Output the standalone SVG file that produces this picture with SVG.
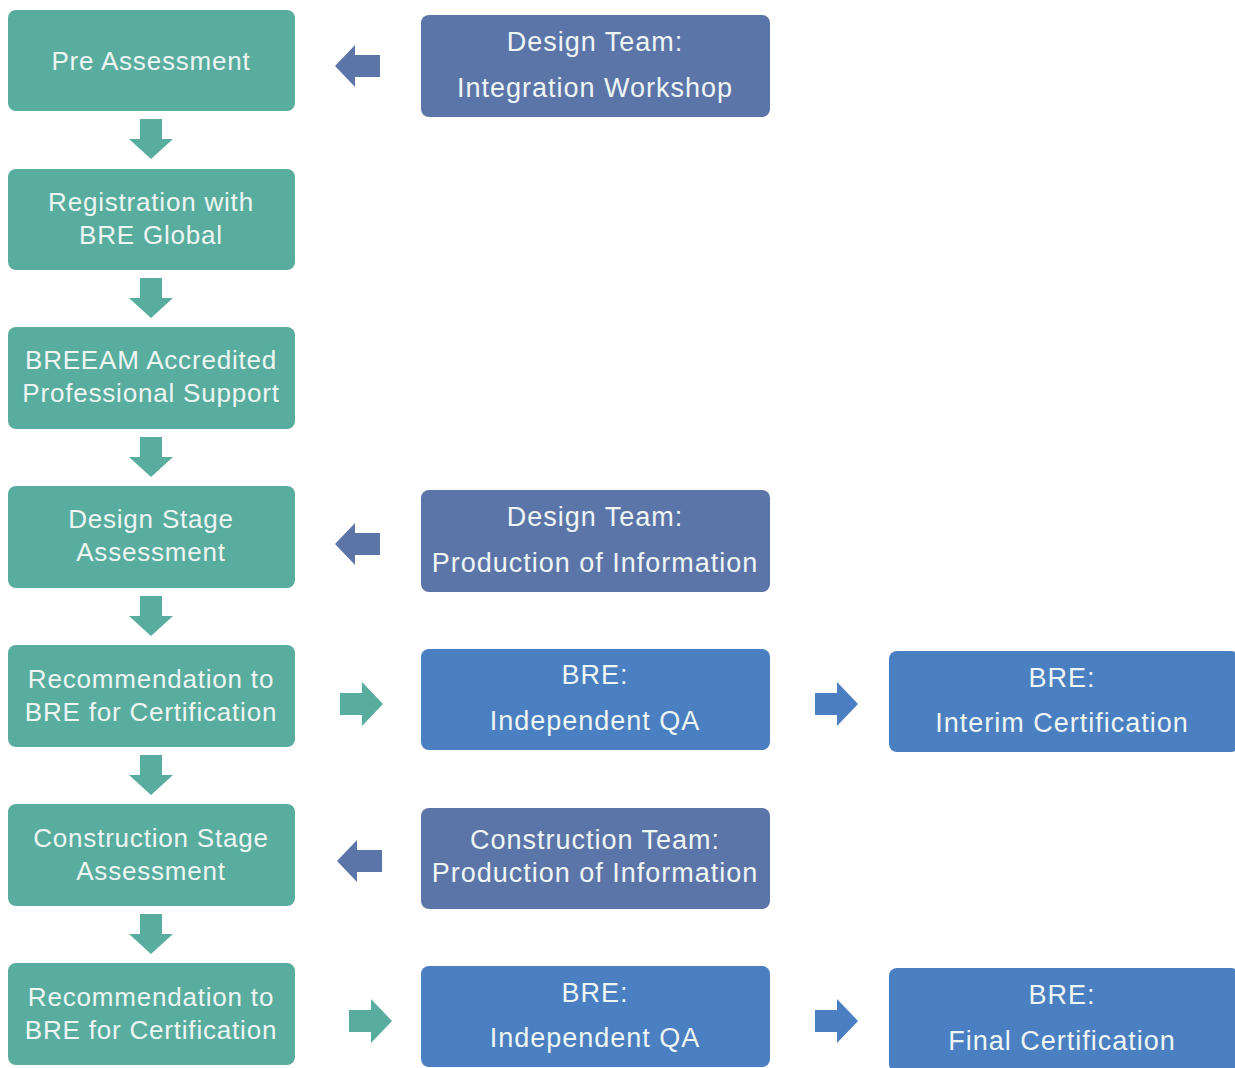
<svg xmlns="http://www.w3.org/2000/svg" width="1235" height="1068" viewBox="0 0 1235 1068">
<style>
text{font-family:"Liberation Sans",Arial,sans-serif;font-size:26px;fill:#eef5f3;text-anchor:middle;letter-spacing:0.8px}
text.r{font-size:27px;letter-spacing:1px}
.teal{fill:#58ad9e}
.purple{fill:#5c75a9}
.blue{fill:#4a7fc1}
</style>
<defs>
<path id="down" d="M-11,0 H11 V20 H22 L0,40 L-22,20 H-11 Z"/>
<path id="left" d="M0,0 L20,-21 V-11 H45 V11 H20 V21 Z"/>
<path id="right" d="M0,-11 H22 V-22 L43,0 L22,22 V11 H0 Z"/>
</defs>
<rect width="1235" height="1068" fill="#ffffff"/>
<g id="connectors">
<use href="#down" x="151" y="119" class="teal"/>
<use href="#down" x="151" y="278" class="teal"/>
<use href="#down" x="151" y="437" class="teal"/>
<use href="#down" x="151" y="596" class="teal"/>
<use href="#down" x="151" y="755" class="teal"/>
<use href="#down" x="151" y="914" class="teal"/>
<use href="#left" x="335" y="66" class="purple"/>
<use href="#left" x="335" y="544" class="purple"/>
<use href="#left" x="337" y="861" class="purple"/>
<use href="#right" x="340" y="704" class="teal"/>
<use href="#right" x="815" y="704" class="blue"/>
<use href="#right" x="349" y="1021" class="teal"/>
<use href="#right" x="815" y="1021" class="blue"/>
</g>
<g id="pre-assessment"><rect x="8" y="10" width="287" height="101" rx="8" class="teal"/><text x="151" y="70">Pre Assessment</text></g>
<g id="registration"><rect x="8" y="169" width="287" height="101" rx="8" class="teal"/><text x="151" y="211">Registration with</text><text x="151" y="244">BRE Global</text></g>
<g id="ap-support"><rect x="8" y="327" width="287" height="102" rx="8" class="teal"/><text x="151" y="369">BREEAM Accredited</text><text x="151" y="402">Professional Support</text></g>
<g id="design-stage"><rect x="8" y="486" width="287" height="102" rx="8" class="teal"/><text x="151" y="528">Design Stage</text><text x="151" y="561">Assessment</text></g>
<g id="recommendation-1"><rect x="8" y="645" width="287" height="102" rx="8" class="teal"/><text x="151" y="688">Recommendation to</text><text x="151" y="721">BRE for Certification</text></g>
<g id="construction-stage"><rect x="8" y="804" width="287" height="102" rx="8" class="teal"/><text x="151" y="847">Construction Stage</text><text x="151" y="880">Assessment</text></g>
<g id="recommendation-2"><rect x="8" y="963" width="287" height="102" rx="8" class="teal"/><text x="151" y="1006">Recommendation to</text><text x="151" y="1039">BRE for Certification</text></g>
<g id="design-team-workshop"><rect x="421" y="15" width="349" height="102" rx="8" class="purple"/><text class="r" x="595" y="51">Design Team:</text><text class="r" x="595" y="97">Integration Workshop</text></g>
<g id="design-team-info"><rect x="421" y="490" width="349" height="102" rx="8" class="purple"/><text class="r" x="595" y="526">Design Team:</text><text class="r" x="595" y="572">Production of Information</text></g>
<g id="bre-qa-1"><rect x="421" y="649" width="349" height="101" rx="8" class="blue"/><text class="r" x="595" y="684">BRE:</text><text class="r" x="595" y="730">Independent QA</text></g>
<g id="bre-interim"><rect x="889" y="651" width="350" height="101" rx="8" class="blue"/><text class="r" x="1062" y="687">BRE:</text><text class="r" x="1062" y="732">Interim Certification</text></g>
<g id="construction-team"><rect x="421" y="808" width="349" height="101" rx="8" class="purple"/><text class="r" x="595" y="849">Construction Team:</text><text class="r" x="595" y="882">Production of Information</text></g>
<g id="bre-qa-2"><rect x="421" y="966" width="349" height="101" rx="8" class="blue"/><text class="r" x="595" y="1002">BRE:</text><text class="r" x="595" y="1047">Independent QA</text></g>
<g id="bre-final"><rect x="889" y="968" width="350" height="104" rx="8" class="blue"/><text class="r" x="1062" y="1004">BRE:</text><text class="r" x="1062" y="1050">Final Certification</text></g>
</svg>
